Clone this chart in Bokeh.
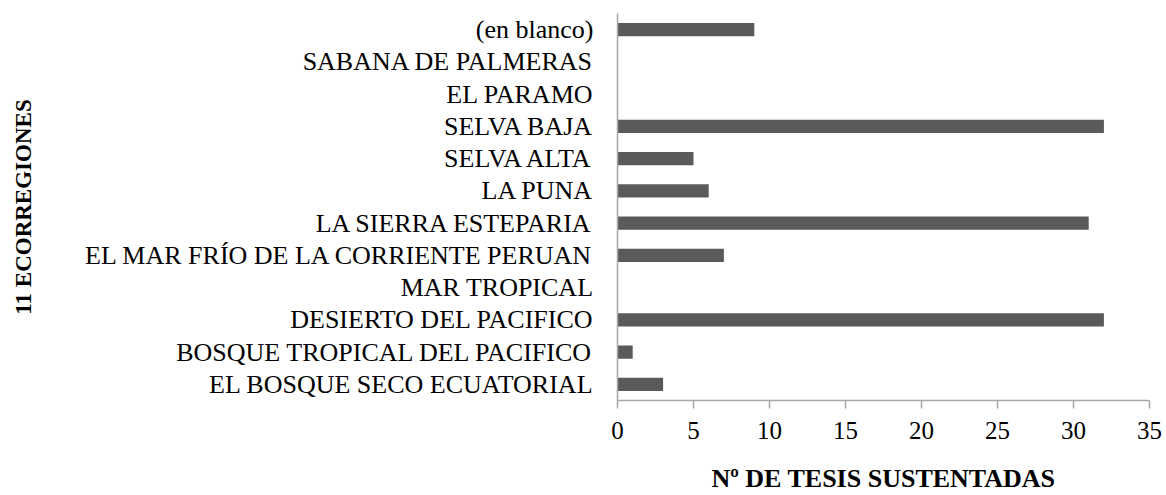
from bokeh.plotting import figure
from bokeh.models import Range1d, FixedTicker
from bokeh.embed import file_html
from bokeh.resources import INLINE

categories = [
    "EL BOSQUE SECO ECUATORIAL",
    "BOSQUE TROPICAL DEL PACIFICO",
    "DESIERTO DEL PACIFICO",
    "MAR TROPICAL",
    "EL MAR FRÍO DE LA CORRIENTE PERUAN",
    "LA SIERRA ESTEPARIA",
    "LA PUNA",
    "SELVA ALTA",
    "SELVA BAJA",
    "EL PARAMO",
    "SABANA DE PALMERAS",
    "(en blanco)",
]
values = [3, 1, 32, 0, 7, 31, 6, 5, 32, 0, 0, 9]
x_ticks = [0, 5, 10, 15, 20, 25, 30, 35]

FONT = "Liberation Serif"

p = figure(
    y_range=categories,
    x_range=Range1d(0, 35),
    width=1166,
    height=495,
    output_backend="svg",
    toolbar_location=None,
    min_border_left=617,
    min_border_right=17,
    min_border_top=13,
    min_border_bottom=95,
)

p.hbar(y=categories, right=values, left=0, height=0.41,
       fill_color="#5a5a5a", line_color=None)

p.outline_line_color = None
p.grid.grid_line_color = None
p.background_fill_color = "white"
p.border_fill_color = "white"

# x axis
p.xaxis.ticker = FixedTicker(ticks=x_ticks)
p.xaxis.minor_tick_line_color = None
p.xaxis.major_tick_in = 0
p.xaxis.major_tick_out = 8
p.xaxis.axis_line_color = "#a6a6a6"
p.xaxis.major_tick_line_color = "#a6a6a6"
p.xaxis.axis_line_width = 1.5
p.xaxis.major_tick_line_width = 1.5
p.xaxis.major_label_text_font = FONT
p.xaxis.major_label_text_font_size = "25px"
p.xaxis.major_label_text_color = "black"
p.xaxis.major_label_standoff = 13
p.xaxis.axis_label = "Nº DE TESIS SUSTENTADAS"
p.xaxis.axis_label_text_font = FONT
p.xaxis.axis_label_text_font_style = "bold"
p.xaxis.axis_label_text_font_size = "26px"
p.xaxis.axis_label_text_color = "black"
p.xaxis.axis_label_standoff = 22

# y axis
p.yaxis.major_tick_line_color = None
p.yaxis.minor_tick_line_color = None
p.yaxis.axis_line_color = "#a6a6a6"
p.yaxis.axis_line_width = 1.5
p.yaxis.major_label_text_font = FONT
p.yaxis.major_label_text_font_size = "26px"
p.yaxis.major_label_text_color = "black"
p.yaxis.major_label_standoff = 18
p.yaxis.axis_label = "11 ECORREGIONES"
p.yaxis.axis_label_text_font = FONT
p.yaxis.axis_label_text_font_style = "bold"
p.yaxis.axis_label_text_font_size = "23px"
p.yaxis.axis_label_text_color = "black"
p.yaxis.axis_label_standoff = 46

open("out.html", "w").write(file_html(p, INLINE))
